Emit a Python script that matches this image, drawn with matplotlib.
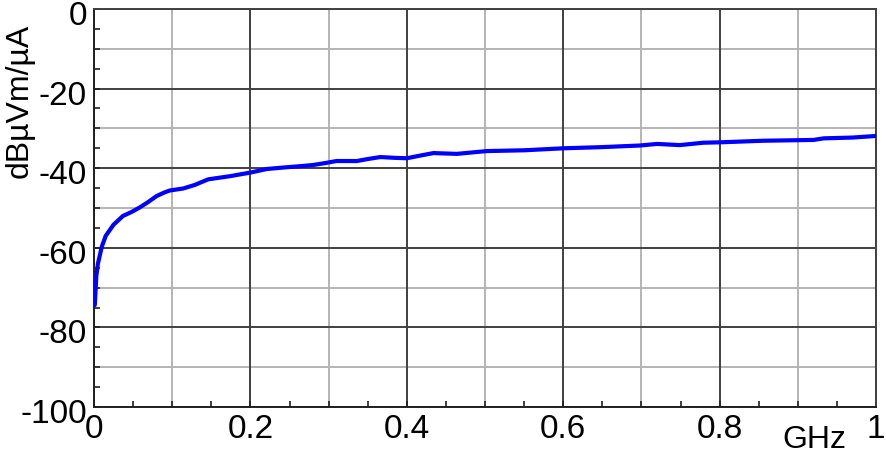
import numpy as np
from matplotlib import pyplot as plt
from matplotlib.ticker import MultipleLocator
from matplotlib.transforms import ScaledTranslation

# curve (GHz, dBuVm/uA)
freq = [0.001, 0.003, 0.005, 0.010, 0.015, 0.025, 0.037, 0.048, 0.059, 0.070,
        0.080, 0.090, 0.097, 0.114, 0.129, 0.146, 0.160, 0.174, 0.200, 0.221,
        0.238, 0.263, 0.280, 0.296, 0.310, 0.336, 0.350, 0.366, 0.385, 0.400,
        0.418, 0.434, 0.464, 0.502, 0.550, 0.600, 0.650, 0.698, 0.720, 0.749,
        0.779, 0.800, 0.856, 0.920, 0.933, 0.970, 1.000]
level = [-74.4, -67.0, -64.0, -59.7, -57.0, -54.2, -52.0, -51.0, -49.8, -48.4,
         -47.0, -46.1, -45.6, -45.1, -44.2, -42.8, -42.4, -42.0, -41.1, -40.2,
         -39.9, -39.5, -39.2, -38.7, -38.2, -38.2, -37.7, -37.2, -37.4, -37.5,
         -36.8, -36.2, -36.4, -35.7, -35.5, -35.0, -34.7, -34.3, -33.9, -34.2,
         -33.6, -33.5, -33.1, -32.9, -32.5, -32.3, -31.9]

x_major = [0, 0.2, 0.4, 0.6, 0.8, 1.0]
x_labels = ["0", "0.2", "0.4", "0.6", "0.8", "1"]
y_major = [0, -20, -40, -60, -80, -100]
y_labels = ["0", "-20", "-40", "-60", "-80", "-100"]

plt.rcParams['font.family'] = ['Liberation Sans', 'DejaVu Sans']

fig = plt.figure(figsize=(8.86, 4.61), dpi=100)
ax = fig.add_axes([94 / 886, 1 - 407 / 461, 782 / 886, 398 / 461])

# light minor grid, dark major grid
for xv in np.arange(0.1, 1.0, 0.2):
    ax.axvline(xv, color="#b4b4b4", lw=1.4, zorder=1)
for yv in np.arange(-90, 0, 20):
    ax.axhline(yv, color="#b4b4b4", lw=1.4, zorder=1)
for xv in x_major:
    ax.axvline(xv, color="#404040", lw=1.4, zorder=1)
for yv in y_major:
    ax.axhline(yv, color="#404040", lw=1.4, zorder=1)

ax.plot(freq, level, color="#0000ff", lw=3.0, zorder=3, solid_capstyle="round",
        solid_joinstyle="round")

ax.set_xlim(0, 1)
ax.set_ylim(-100, 0)
ax.set_xticks(x_major)
ax.set_xticklabels(x_labels)
ax.set_yticks(y_major)
ax.set_yticklabels(y_labels)
ax.xaxis.set_minor_locator(MultipleLocator(0.05))
ax.yaxis.set_minor_locator(MultipleLocator(5))
ax.tick_params(which="both", direction="in", length=4, width=1.2, color="#202020")
ax.tick_params(which="major", labelsize=24, pad=5)

# y labels sit a few pixels below their ticks in the reference
shift = ScaledTranslation(0, -4 / 100, fig.dpi_scale_trans)
for lab in ax.get_yticklabels():
    lab.set_transform(lab.get_transform() + shift)

for side in ["top", "right"]:
    ax.spines[side].set_color("#404040")
    ax.spines[side].set_linewidth(1.4)
for side in ["left", "bottom"]:
    ax.spines[side].set_color("#202020")
    ax.spines[side].set_linewidth(1.4)

fig.text(20 / 886, 1 - 101 / 461, "dBµVm/µA", rotation=90, fontsize=23,
         ha="center", va="center")
fig.text(814 / 886, 1 - 440 / 461, "GHz", fontsize=23, ha="center", va="center")

fig.savefig("out.png", dpi=100)
